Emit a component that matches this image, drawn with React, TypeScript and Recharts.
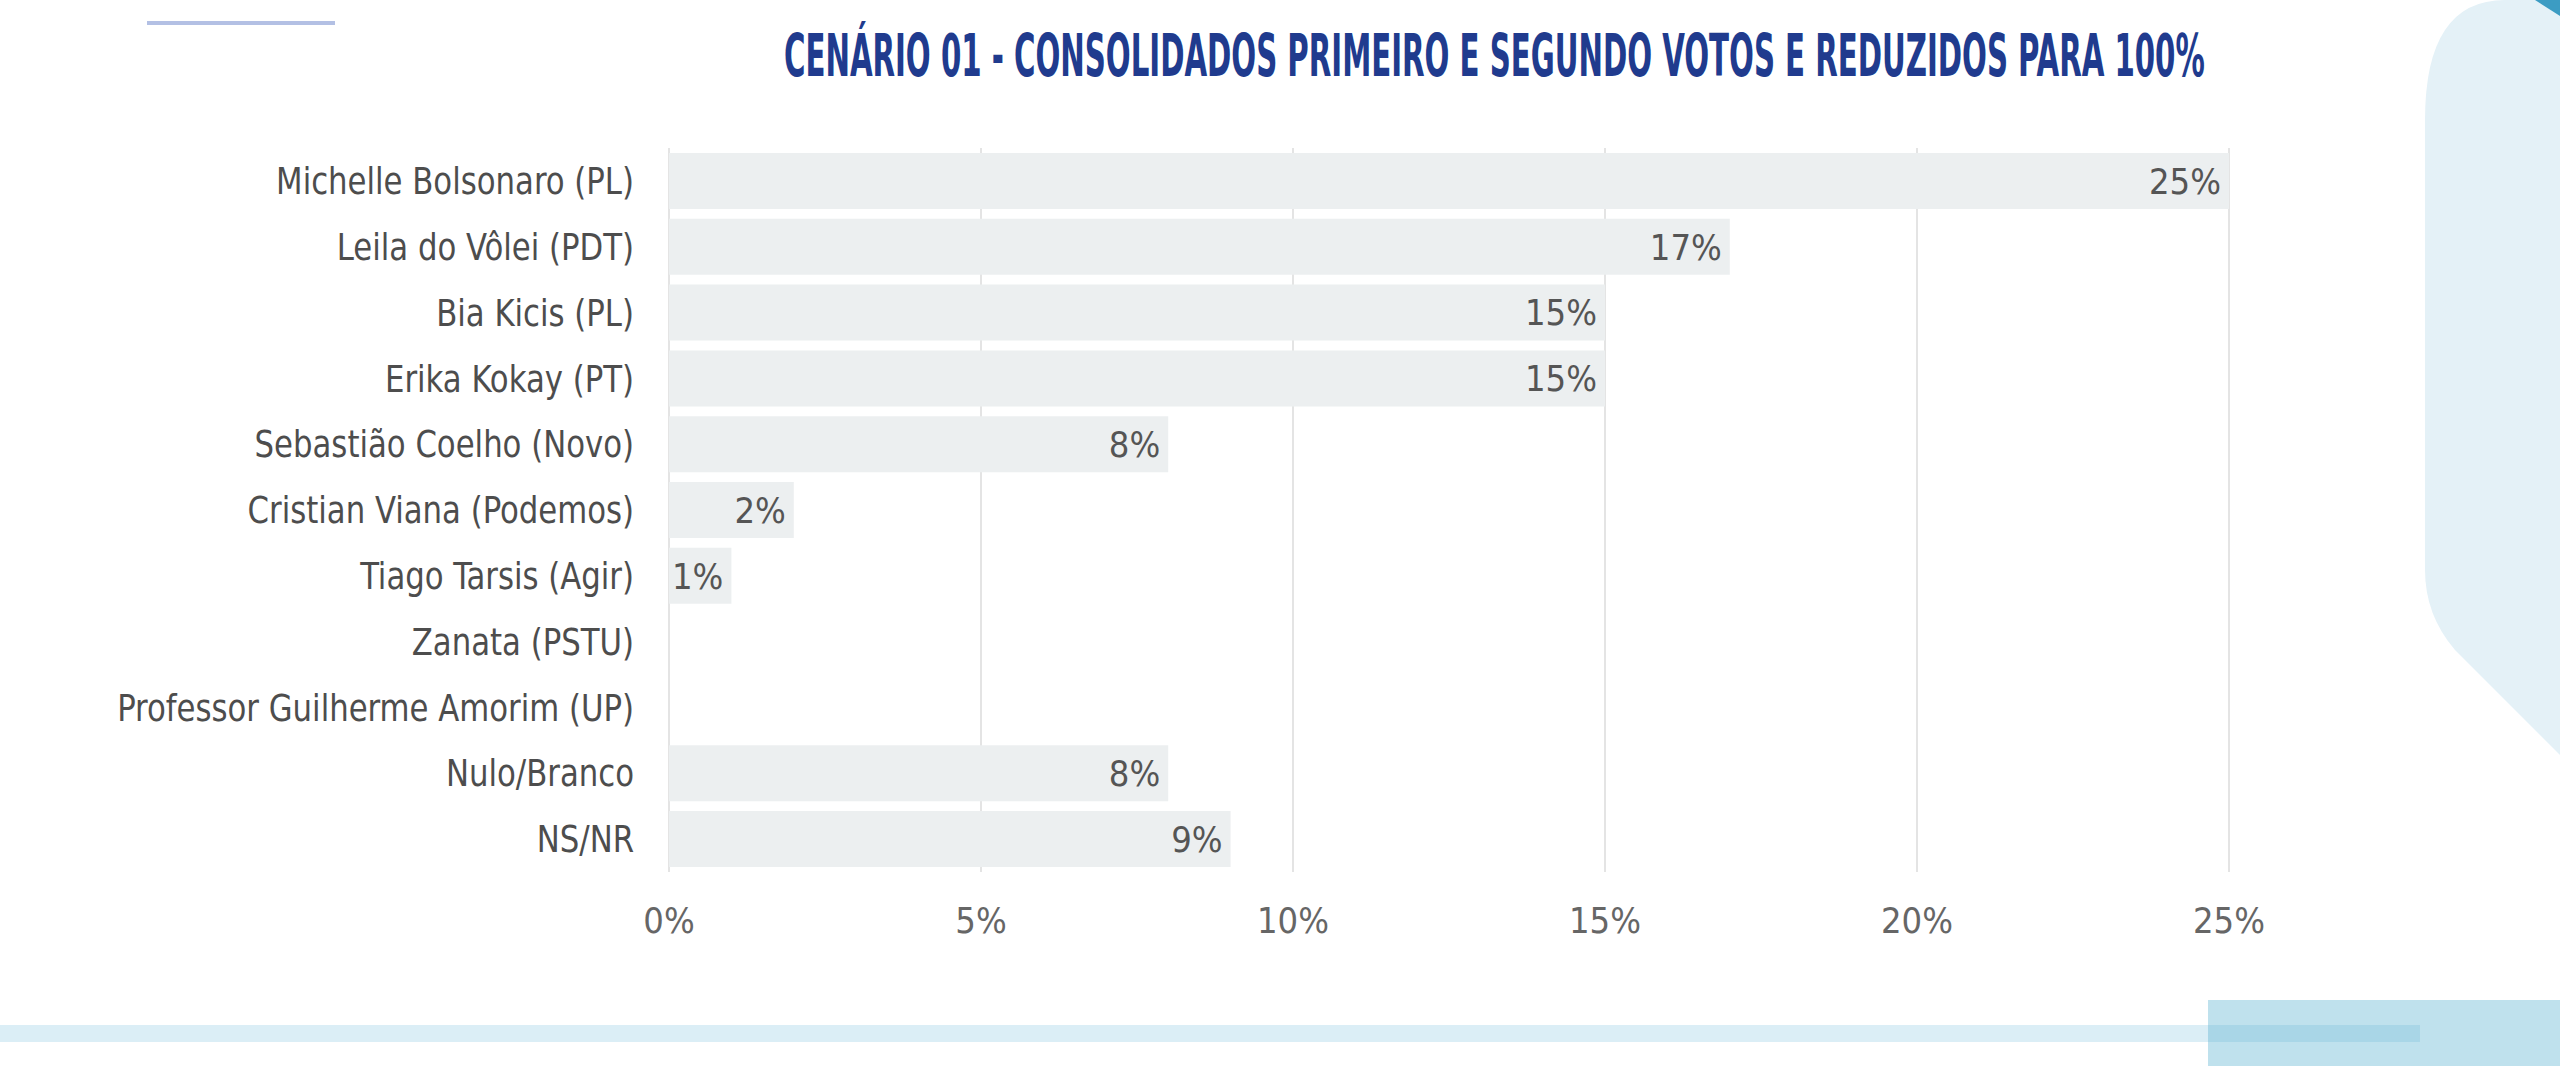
import { useLayoutEffect, useRef, useState } from "react"
import { BarChart, Bar, XAxis, YAxis, CartesianGrid, LabelList } from "recharts"

const candidates = [
  "Michelle Bolsonaro (PL)",
  "Leila do Vôlei (PDT)",
  "Bia Kicis (PL)",
  "Erika Kokay (PT)",
  "Sebastião Coelho (Novo)",
  "Cristian Viana (Podemos)",
  "Tiago Tarsis (Agir)",
  "Zanata (PSTU)",
  "Professor Guilherme Amorim (UP)",
  "Nulo/Branco",
  "NS/NR",
]

const shares = [25, 17, 15, 15, 8, 2, 1, 0, 0, 8, 9]

const xTicks = [0, 5, 10, 15, 20, 25]

const title = "CENÁRIO 01 - CONSOLIDADOS PRIMEIRO E SEGUNDO VOTOS E REDUZIDOS PARA 100%"

const data = candidates.map((name, i) => ({ name, value: shares[i] }))

const FONT = "'DejaVu Sans Condensed', 'DejaVu Sans', sans-serif"

// condensed category label, squeezed horizontally around its right end
const NameTick = (props: any) => {
  const { x, y, payload } = props
  return (
    <text
      transform={`translate(${x},${y}) scale(0.9,1)`}
      textAnchor="end"
      dominantBaseline="central"
      fill="#4d4d4d"
      fontSize={38}
      fontFamily={FONT}
    >
      {payload.value}
    </text>
  )
}

function Title() {
  const ref = useRef<HTMLDivElement>(null)
  const [k, setK] = useState(1)
  useLayoutEffect(() => {
    if (ref.current) setK(1421 / ref.current.scrollWidth)
  }, [])
  return (
    <div
      ref={ref}
      style={{
        position: "absolute",
        left: 784,
        top: 26,
        whiteSpace: "nowrap",
        fontFamily: FONT,
        fontWeight: 700,
        fontSize: 58,
        lineHeight: "60px",
        color: "#203b8e",
        transformOrigin: "0 0",
        transform: `scaleX(${k})`,
      }}
    >
      {title}
    </div>
  )
}

export default function App() {
  return (
    <div
      style={{
        position: "absolute",
        left: 0,
        top: 0,
        width: 2560,
        height: 1078,
        background: "#fff",
        overflow: "hidden",
        fontFamily: FONT,
      }}
    >
      {/* background decoration */}
      <svg width={2560} height={1078} style={{ position: "absolute", left: 0, top: 0 }}>
        <rect x={147} y={21} width={188} height={4} fill="#b3c0e4" />
        <path
          d="M 2560 0 L 2505 0 Q 2425 0 2425 120 L 2425 570 Q 2425 615 2455 650 L 2560 755 Z"
          fill="#e4f1f7"
        />
        <path d="M 2535 0 L 2560 0 L 2560 16 Z" fill="#3c9cc3" />
        <rect x={0} y={1025} width={2420} height={17} fill="#dbeef6" />
        <rect x={2208} y={1000} width={352} height={66} fill="#bfe1ed" />
        <rect x={2208} y={1025} width={212} height={17} fill="#a9d6e7" />
      </svg>

      <Title />

      <div style={{ position: "absolute", left: 0, top: 0 }}>
        <BarChart
          width={2560}
          height={960}
          data={data}
          layout="vertical"
          margin={{ top: 148, right: 331, bottom: 28, left: 0 }}
          barCategoryGap="7.5%"
        >
          <CartesianGrid horizontal={false} stroke="#e4e4e4" strokeWidth={2} />
          <XAxis
            type="number"
            domain={[0, 25]}
            ticks={xTicks}
            tickFormatter={(v) => `${v}%`}
            axisLine={false}
            tickLine={false}
            tickSize={0}
            tickMargin={35}
            height={60}
            tick={{ fill: "#666", fontSize: 36, fontFamily: FONT }}
          />
          <YAxis
            type="category"
            dataKey="name"
            width={669}
            axisLine={false}
            tickLine={false}
            tickSize={0}
            tickMargin={35}
            interval={0}
            tick={<NameTick />}
          />
          <Bar dataKey="value" fill="#eceff0" isAnimationActive={false}>
            <LabelList
              dataKey="value"
              position="insideRight"
              offset={8}
              formatter={(v: number) => (v ? `${v}%` : "")}
              fill="#555"
              fontSize={36}
              fontFamily={FONT}
            />
          </Bar>
        </BarChart>
      </div>
    </div>
  )
}
